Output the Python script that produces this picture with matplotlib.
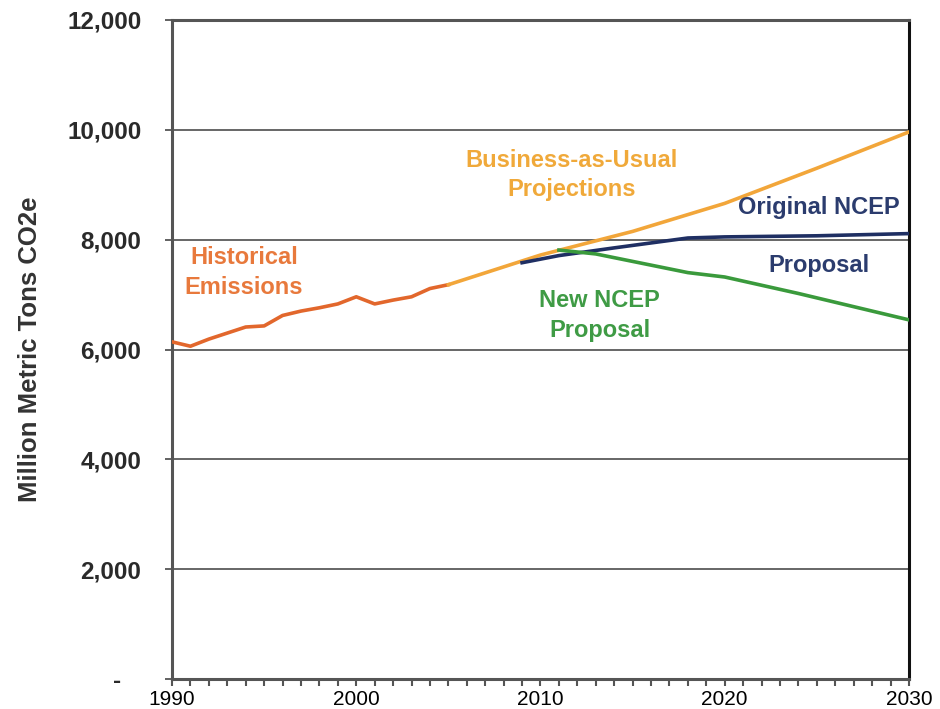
import numpy as np
import matplotlib.pyplot as plt
from matplotlib.ticker import MultipleLocator

plt.rcParams['font.family'] = ['Liberation Sans', 'DejaVu Sans']

# historical emissions
hist_years = [1990, 1991, 1992, 1993, 1994, 1995, 1996, 1997, 1998, 1999,
              2000, 2001, 2002, 2003, 2004, 2005]
hist_vals = [6140, 6060, 6190, 6300, 6410, 6430, 6620, 6700, 6760, 6830,
             6960, 6830, 6900, 6960, 7110, 7180]

# business as usual projection
bau_years = [2005, 2010, 2015, 2020, 2025, 2030]
bau_vals = [7180, 7720, 8150, 8660, 9300, 9960]

# original NCEP proposal
orig_years = [2009, 2011, 2014, 2018, 2020, 2025, 2030]
orig_vals = [7580, 7710, 7850, 8030, 8050, 8070, 8110]

# new NCEP proposal
new_years = [2011, 2013, 2018, 2020, 2024, 2030]
new_vals = [7810, 7740, 7400, 7320, 7020, 6540]

yticks = [0, 2000, 4000, 6000, 8000, 10000, 12000]
ytick_labels = ['-   ', '2,000', '4,000', '6,000', '8,000', '10,000', '12,000']
xticks = [1990, 2000, 2010, 2020, 2030]

fig = plt.figure(figsize=(9.4, 7.09), dpi=100)
ax = fig.add_axes([0.183, 0.042, 0.784, 0.930])

for y in yticks[1:-1]:
    ax.axhline(y, color='#5a5a5a', lw=1.3, zorder=1)

ax.plot(hist_years, hist_vals, color='#E2672C', lw=2.6, zorder=3)
ax.plot(bau_years, bau_vals, color='#F2A63A', lw=2.6, zorder=3)
ax.plot(orig_years, orig_vals, color='#1F2F63', lw=2.6, zorder=4)
ax.plot(new_years, new_vals, color='#3A9A3C', lw=2.6, zorder=4)

ax.set_xlim(1990, 2030)
ax.set_ylim(0, 12000)
ax.set_yticks(yticks)
ax.set_yticklabels(ytick_labels, fontsize=17.5, fontweight='bold', color='#2a2a2a')
ax.set_xticks(xticks)
ax.set_xticklabels([str(x) for x in xticks], fontsize=15)
ax.xaxis.set_minor_locator(MultipleLocator(1))
ax.tick_params(axis='x', which='both', direction='out', length=5, width=1.5,
               color='#555555', pad=3)
ax.tick_params(axis='y', direction='out', length=5, width=1.3, color='#555555', pad=17)

for side in ['left', 'bottom', 'top']:
    ax.spines[side].set_color('#555555')
    ax.spines[side].set_linewidth(2.2)
ax.spines['right'].set_color('#111111')
ax.spines['right'].set_linewidth(2.2)

ax.set_ylabel('Million Metric Tons CO2e', fontsize=18.5, fontweight='bold',
              color='#333333', labelpad=18)

ax.text(1993.9, 7400, 'Historical\nEmissions', ha='center', va='center',
        fontsize=17, fontweight='bold', color='#E8793C', linespacing=1.4)
ax.text(2011.7, 9180, 'Business-as-Usual\nProjections', ha='center', va='center',
        fontsize=17, fontweight='bold', color='#F0A93A', linespacing=1.3)
ax.text(2025.1, 8576, 'Original NCEP', ha='center', va='center',
        fontsize=17, fontweight='bold', color='#2B3C6E')
ax.text(2025.1, 7538, 'Proposal', ha='center', va='center',
        fontsize=17, fontweight='bold', color='#2B3C6E')
ax.text(2013.2, 6620, 'New NCEP\nProposal', ha='center', va='center',
        fontsize=17, fontweight='bold', color='#3F9B45', linespacing=1.38)

fig.savefig('out.png', dpi=100)
